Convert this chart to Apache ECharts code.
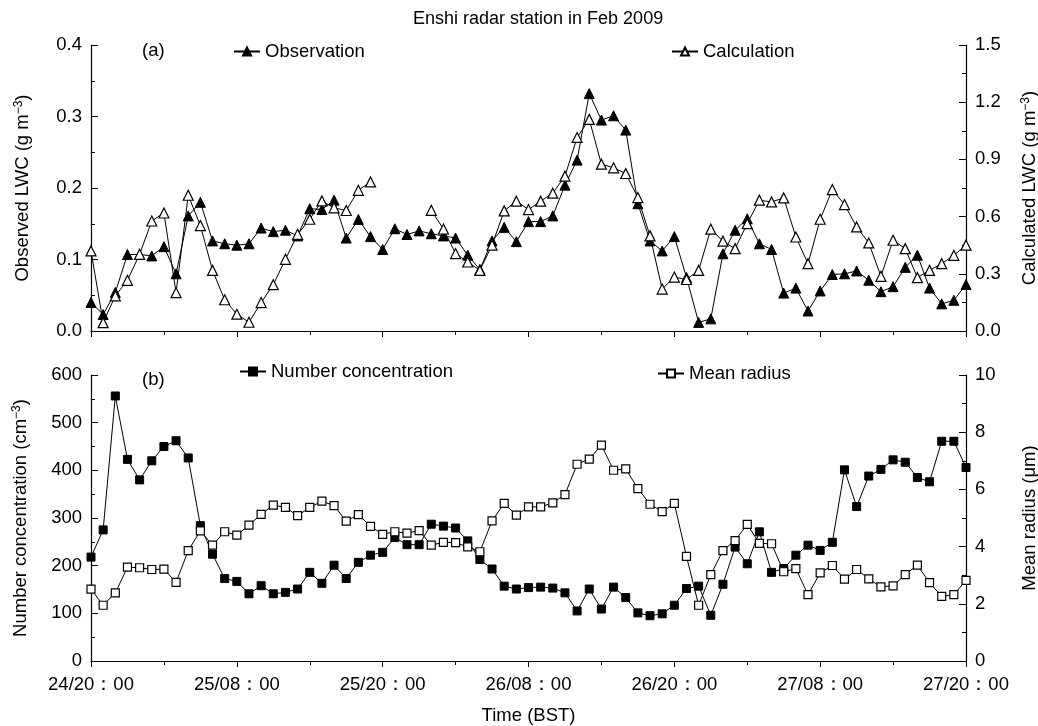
<!DOCTYPE html>
<html>
<head>
<meta charset="utf-8">
<script src="https://cdn.jsdelivr.net/npm/echarts@6/dist/echarts.min.js"></script>
<style>html,body{margin:0;padding:0;background:#fff}#c{width:1038px;height:726px}</style>
</head>
<body>
<div id="c"></div>
<script>
// x tick labels (every 12 hours, hourly data from 24/20:00 to 27/20:00)
const tickLabels = ['24/20：00','25/08：00','25/20：00','26/08：00','26/20：00','27/08：00','27/20：00'];

// (a) Observed LWC (g m-3), hourly
const observation = [0.040,0.023,0.054,0.107,0.107,0.105,0.118,0.080,0.161,0.180,
0.126,0.122,0.120,0.122,0.144,0.139,0.141,0.133,0.171,0.170,
0.183,0.130,0.156,0.132,0.114,0.143,0.135,0.140,0.136,0.133,
0.130,0.106,0.086,0.126,0.145,0.125,0.153,0.153,0.161,0.204,
0.239,0.332,0.295,0.301,0.281,0.178,0.126,0.112,0.132,0.075,
0.012,0.017,0.108,0.141,0.157,0.122,0.114,0.053,0.060,0.028,
0.056,0.079,0.080,0.084,0.071,0.055,0.062,0.089,0.106,0.060,
0.038,0.043,0.065];

// (a) Calculated LWC (g m-3), hourly, gap = null
const calculation = [0.42,0.044,0.184,0.266,0.402,0.577,0.619,0.201,0.712,0.553,
0.318,0.164,0.088,0.046,0.149,0.243,0.376,0.507,0.586,0.682,
0.646,0.632,0.738,0.782,null,null,null,null,0.633,0.535,
0.406,0.362,0.318,0.45,0.630,0.681,0.637,0.681,0.723,0.812,
1.015,1.11,0.875,0.856,0.826,0.700,0.499,0.220,0.283,0.270,
0.318,0.534,0.471,0.432,0.563,0.686,0.677,0.698,0.493,0.353,
0.586,0.742,0.663,0.546,0.462,0.287,0.476,0.432,0.280,0.318,
0.353,0.397,0.450];

// (b) Number concentration (cm-3)
const numberConc = [218,275,556,423,380,420,450,462,426,284,
224,173,167,141,158,141,144,151,186,163,
201,173,207,222,228,259,244,244,287,283,
279,252,213,193,157,151,154,155,153,143,
105,151,109,155,133,101,95,99,117,152,
157,96,161,239,204,271,186,194,222,243,
232,249,401,324,388,402,422,417,385,376,
461,461,406];

// (b) Mean radius (um)
const meanRadius = [2.51,1.95,2.38,3.28,3.26,3.20,3.21,2.75,3.86,4.55,
4.05,4.52,4.40,4.75,5.13,5.45,5.37,5.08,5.37,5.59,
5.43,4.89,5.12,4.71,4.43,4.52,4.47,4.56,4.05,4.15,
4.14,3.99,3.82,4.90,5.51,5.10,5.39,5.39,5.53,5.82,
6.88,7.06,7.55,6.67,6.72,6.03,5.48,5.22,5.51,3.66,
1.95,3.02,3.86,4.21,4.78,4.11,4.10,3.12,3.23,2.32,
3.08,3.34,2.86,3.20,2.87,2.59,2.63,3.02,3.35,2.74,
2.26,2.32,2.82];

const FONT = 'Liberation Sans, Arial, sans-serif';
const FS = 18.5;
const pts = arr => arr.map((v, i) => [i, v]);

function xAxisCfg(gridIndex, showLabels) {
  return {
    type: 'value', gridIndex, min: 0, max: 72, interval: 12,
    axisLine: { show: true, onZero: false, lineStyle: { color: '#000', width: 1.2 } },
    axisTick: { show: true, inside: false, length: 6, lineStyle: { color: '#000' } },
    minorTick: { show: true, splitNumber: 2, length: 4, lineStyle: { color: '#000' } },
    splitLine: { show: false },
    axisLabel: { show: showLabels, color: '#000', fontFamily: FONT, fontSize: FS, margin: 14,
      formatter: v => tickLabels[Math.round(v / 12)] },
    name: showLabels ? 'Time (BST)' : '', nameLocation: 'middle', nameGap: 45,
    nameTextStyle: { color: '#000', fontFamily: FONT, fontSize: FS }
  };
}
function yAxisCfg(gridIndex, pos, min, max, interval, name, gap, fmt) {
  return {
    type: 'value', gridIndex, position: pos, min, max, interval,
    axisLine: { show: true, onZero: false, lineStyle: { color: '#000', width: 1.2 } },
    axisTick: { show: true, inside: true, length: 7, lineStyle: { color: '#000' } },
    minorTick: { show: true, splitNumber: 2, length: 4, lineStyle: { color: '#000' } },
    splitLine: { show: false },
    axisLabel: { color: '#000', fontFamily: FONT, fontSize: FS, margin: 9, formatter: fmt },
    name, nameLocation: 'middle', nameGap: gap,
    nameTextStyle: { color: '#000', fontFamily: FONT, fontSize: FS,
      rich: { n: { fontFamily: FONT, fontSize: FS, color: '#000' },
              s: { fontFamily: FONT, fontSize: 12, color: '#000', verticalAlign: 'top' } } }
  };
}

const lineBase = { type: 'line', showAllSymbol: true, connectNulls: false,
  lineStyle: { color: '#000', width: 1 }, itemStyle: { color: '#000', borderColor: '#000', borderWidth: 1 } };

const gridBase = { left: 91, right: 72, height: 286, containLabel: false, outerBoundsMode: 'none' };

const chart = echarts.init(document.getElementById('c'), null, { renderer: 'canvas' });
chart.setOption({
  animation: false,
  backgroundColor: '#fff',
  textStyle: { fontFamily: FONT },
  title: [
    { text: 'Enshi radar station in Feb 2009', left: 408, top: 5,
      textStyle: { fontFamily: FONT, fontSize: 18, fontWeight: 'normal', color: '#000' } },
    { text: '(a)', left: 137, top: 36, textStyle: { fontFamily: FONT, fontSize: FS, fontWeight: 'normal', color: '#000' } },
    { text: '(b)', left: 137, top: 365, textStyle: { fontFamily: FONT, fontSize: FS, fontWeight: 'normal', color: '#000' } }
  ],
  legend: [
    { data: ['Observation'], left: 228, top: 37, itemWidth: 26, itemHeight: 10, textStyle: { fontFamily: FONT, fontSize: FS, color: '#000' } },
    { data: ['Calculation'], left: 666, top: 37, itemWidth: 26, itemHeight: 10, textStyle: { fontFamily: FONT, fontSize: FS, color: '#000' } },
    { data: ['Number concentration'], left: 234, top: 357, itemWidth: 26, itemHeight: 10, textStyle: { fontFamily: FONT, fontSize: FS, color: '#000' } },
    { data: ['Mean radius'], left: 652, top: 359, itemWidth: 26, itemHeight: 10, textStyle: { fontFamily: FONT, fontSize: FS, color: '#000' } }
  ],
  grid: [
    Object.assign({}, gridBase, { top: 45 }),
    Object.assign({}, gridBase, { top: 375 })
  ],
  xAxis: [ xAxisCfg(0, false), xAxisCfg(1, true) ],
  yAxis: [
    yAxisCfg(0, 'left', 0, 0.4, 0.1, '{n|Observed LWC (g m}{s|−3}{n|)}', 59, v => v.toFixed(1)),
    yAxisCfg(0, 'right', 0, 1.5, 0.3, '{n|Calculated LWC (g m}{s|−3}{n|)}', 54, v => v.toFixed(1)),
    yAxisCfg(1, 'left', 0, 600, 100, '{n|Number concentration (cm}{s|−3}{n|)}', 61, v => String(v)),
    yAxisCfg(1, 'right', 0, 10, 2, '{n|Mean radius (μm)}', 54, v => String(v))
  ],
  series: [
    Object.assign({}, lineBase, { name: 'Observation', xAxisIndex: 0, yAxisIndex: 0, data: pts(observation),
      symbol: 'triangle', symbolSize: 10, itemStyle: { color: '#000', borderColor: '#000', borderWidth: 1 } }),
    Object.assign({}, lineBase, { name: 'Calculation', xAxisIndex: 0, yAxisIndex: 1, data: pts(calculation),
      symbol: 'triangle', symbolSize: 10, itemStyle: { color: '#fff', borderColor: '#000', borderWidth: 1.2 } }),
    Object.assign({}, lineBase, { name: 'Number concentration', xAxisIndex: 1, yAxisIndex: 2, data: pts(numberConc),
      symbol: 'rect', symbolSize: 8, itemStyle: { color: '#000', borderColor: '#000', borderWidth: 1 } }),
    Object.assign({}, lineBase, { name: 'Mean radius', xAxisIndex: 1, yAxisIndex: 3, data: pts(meanRadius),
      symbol: 'rect', symbolSize: 8, itemStyle: { color: '#fff', borderColor: '#000', borderWidth: 1.2 } })
  ]
});
</script>
</body>
</html>
